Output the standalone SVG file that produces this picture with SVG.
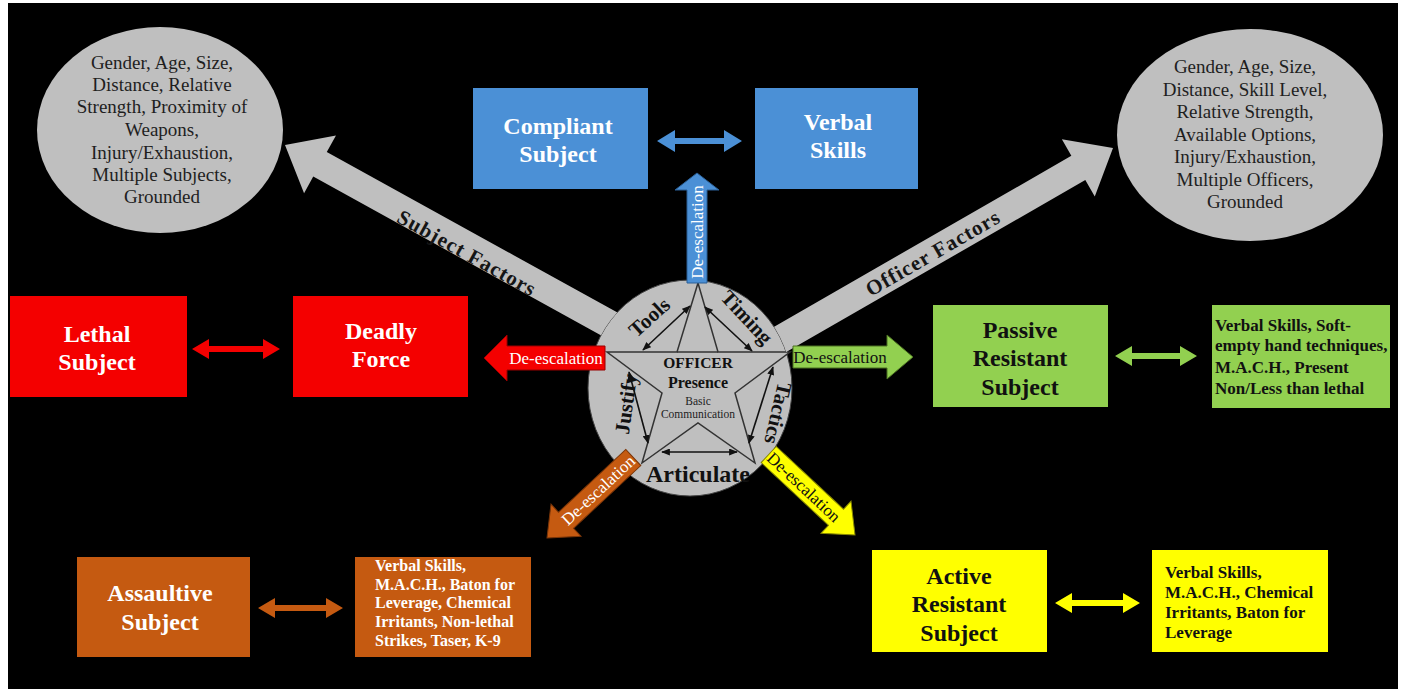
<svg xmlns="http://www.w3.org/2000/svg" width="1403" height="694" viewBox="0 0 1403 694">
<defs>
<style>
.bt{font-family:'Liberation Serif','DejaVu Serif','Times New Roman',serif;font-weight:bold;font-size:24px;text-anchor:middle}
.w{fill:#ffffff}
.d{fill:#111111}
.el{font-family:'Liberation Serif','DejaVu Serif','Times New Roman',serif;font-size:19px;fill:#1e1e1e;text-anchor:middle}
.sm{font-family:'Liberation Serif','DejaVu Serif','Times New Roman',serif;font-weight:bold;font-size:17px}
.de{font-family:'Liberation Serif','DejaVu Serif','Times New Roman',serif;font-size:17px;text-anchor:middle}
.lb{font-family:'Liberation Serif','DejaVu Serif','Times New Roman',serif;font-weight:bold;font-size:21px;fill:#111;text-anchor:middle}
.fac{font-family:'Liberation Serif','DejaVu Serif','Times New Roman',serif;font-weight:bold;font-size:21px;letter-spacing:1px;fill:#151515;text-anchor:middle}
.gray{fill:#bfbfbf}
.thin{stroke:#111;stroke-width:1.6;fill:none;marker-start:url(#ah);marker-end:url(#ah)}
</style>
<marker id="ah" viewBox="0 0 10 8" refX="9" refY="4" markerWidth="9" markerHeight="7" markerUnits="userSpaceOnUse" orient="auto-start-reverse"><path d="M0,0 L10,4 L0,8 z" fill="#111"/></marker>
<clipPath id="outC"><path clip-rule="evenodd" d="M0,0H1403V694H0Z M588,388 a102,108 0 1,0 204,0 a102,108 0 1,0 -204,0Z"/></clipPath>
</defs>
<rect x="0" y="0" width="1403" height="694" fill="#ffffff"/>
<rect x="8" y="3" width="1390" height="686" fill="#000000"/>

<g id="subject-factors-list">
<ellipse class="gray" cx="160" cy="130" rx="123" ry="103"/>
<text class="el" x="162" y="69">Gender, Age, Size,</text>
<text class="el" x="162" y="91">Distance, Relative</text>
<text class="el" x="162" y="113">Strength, Proximity of</text>
<text class="el" x="162" y="136">Weapons,</text>
<text class="el" x="162" y="159">Injury/Exhaustion,</text>
<text class="el" x="162" y="181">Multiple Subjects,</text>
<text class="el" x="162" y="203">Grounded</text>
</g>

<g id="officer-factors-list">
<ellipse class="gray" cx="1250" cy="135" rx="133" ry="106"/>
<text class="el" x="1245" y="73">Gender, Age, Size,</text>
<text class="el" x="1245" y="95.5">Distance, Skill Level,</text>
<text class="el" x="1245" y="118">Relative Strength,</text>
<text class="el" x="1245" y="140.5">Available Options,</text>
<text class="el" x="1245" y="163">Injury/Exhaustion,</text>
<text class="el" x="1245" y="185.5">Multiple Officers,</text>
<text class="el" x="1245" y="208">Grounded</text>
</g>

<g id="compliant-subject">
<rect x="473" y="88" width="175" height="101" fill="#4b90d6"/>
<text class="bt w" x="558" y="134">Compliant</text>
<text class="bt w" x="558" y="162">Subject</text>
</g>

<g id="verbal-skills">
<rect x="755" y="88" width="163" height="101" fill="#4b90d6"/>
<text class="bt w" x="838" y="130">Verbal</text>
<text class="bt w" x="838" y="158">Skills</text>
</g>

<g id="lethal-subject">
<rect x="10" y="296" width="177" height="101" fill="#f40000"/>
<text class="bt w" x="97" y="342">Lethal</text>
<text class="bt w" x="97" y="370">Subject</text>
</g>

<g id="deadly-force">
<rect x="293" y="296" width="175" height="101" fill="#f40000"/>
<text class="bt w" x="381" y="339">Deadly</text>
<text class="bt w" x="381" y="367">Force</text>
</g>

<g id="passive-resistant-subject">
<rect x="933" y="305" width="175" height="102" fill="#92d050"/>
<text class="bt d" x="1020" y="338">Passive</text>
<text class="bt d" x="1020" y="366">Resistant</text>
<text class="bt d" x="1020" y="395">Subject</text>
</g>

<g id="passive-options">
<rect x="1212" y="305" width="178" height="103" fill="#92d050"/>
<text class="sm d" x="1215" y="331">Verbal Skills, Soft-</text>
<text class="sm d" x="1215" y="351">empty hand techniques,</text>
<text class="sm d" x="1215" y="373">M.A.C.H., Present</text>
<text class="sm d" x="1215" y="394">Non/Less than lethal</text>
</g>

<g id="assaultive-subject">
<rect x="77" y="557" width="173" height="100" fill="#c55a11"/>
<text class="bt w" x="160" y="601">Assaultive</text>
<text class="bt w" x="160" y="630">Subject</text>
</g>

<g id="assaultive-options">
<rect x="355" y="557" width="176" height="100" fill="#c55a11"/>
<text class="sm w" x="375" y="571" style="font-size:16px">Verbal Skills,</text>
<text class="sm w" x="375" y="590" style="font-size:16px">M.A.C.H., Baton for</text>
<text class="sm w" x="375" y="608" style="font-size:16px">Leverage, Chemical</text>
<text class="sm w" x="375" y="627" style="font-size:16px">Irritants, Non-lethal</text>
<text class="sm w" x="375" y="646" style="font-size:16px">Strikes, Taser, K-9</text>
</g>

<g id="active-resistant-subject">
<rect x="872" y="550" width="175" height="102" fill="#ffff00"/>
<text class="bt d" x="959" y="584">Active</text>
<text class="bt d" x="959" y="612">Resistant</text>
<text class="bt d" x="959" y="641">Subject</text>
</g>

<g id="active-options">
<rect x="1152" y="550" width="176" height="102" fill="#ffff00"/>
<text class="sm d" x="1165" y="578">Verbal Skills,</text>
<text class="sm d" x="1165" y="598">M.A.C.H., Chemical</text>
<text class="sm d" x="1165" y="618">Irritants, Baton for</text>
<text class="sm d" x="1165" y="638">Leverage</text>
</g>

<g id="officer">
<ellipse cx="690" cy="388" rx="102" ry="108" fill="#bfbfbf" stroke="#444" stroke-width="1"/>
<polygon points="698,283 718,352 790,352 735,393 755,463 698,423 642,463 662,393 607,352 677,352" fill="#bfbfbf" stroke="#333" stroke-width="1.5"/>
<line x1="677" y1="352" x2="718" y2="352" stroke="#333" stroke-width="1.5"/>
<line class="thin" x1="643" y1="350" x2="690" y2="306"/>
<line class="thin" x1="705" y1="307" x2="752" y2="351"/>
<line class="thin" x1="773" y1="367" x2="749" y2="443"/>
<line class="thin" x1="662" y1="452" x2="737" y2="452"/>
<line class="thin" x1="629" y1="372" x2="648" y2="443"/>
<text class="lb" transform="translate(650,318) rotate(-42)" x="0" y="6">Tools</text>
<text class="lb" transform="translate(746,318) rotate(47)" x="0" y="6">Timing</text>
<text class="lb" transform="translate(777,413) rotate(103)" x="0" y="6">Tactics</text>
<text class="lb" transform="translate(627,404) rotate(-82)" x="0" y="6">Justify</text>
<text class="lb" x="698" y="482" style="font-size:24px">Articulate</text>
<text class="lb" x="698" y="368" style="font-size:15.5px">OFFICER</text>
<text class="lb" x="698" y="388" style="font-size:16px">Presence</text>
<text class="de" x="698" y="405" style="font-size:11.5px;fill:#222">Basic</text>
<text class="de" x="698" y="418" style="font-size:11.5px;fill:#222">Communication</text>
</g>

<g id="connectors">
<g clip-path="url(#outC)">
<polygon transform="translate(285,145) rotate(208.9)" points="0,0 -40,-33 -40,-14 -400,-14 -400,14 -40,14 -40,33" fill="#bfbfbf"/>
<polygon transform="translate(1113,148) rotate(-29.9)" points="0,0 -40,-33 -40,-14 -400,-14 -400,14 -40,14 -40,33" fill="#bfbfbf"/>
</g>
<text class="fac" transform="translate(467,253) rotate(29)" x="0" y="7">Subject Factors</text>
<text class="fac" transform="translate(933,253) rotate(-30)" x="0" y="7">Officer Factors</text>

<polygon points="657,141 675,130 675,138 724,138 724,130 742,141 724,152 724,144 675,144 675,152" fill="#4b90d6"/>
<polygon points="192,349 209,339 209,346 263,346 263,339 280,349 263,359 263,352 209,352 209,359" fill="#f40000"/>
<polygon points="1115,356 1132,346 1132,353 1180,353 1180,346 1197,356 1180,366 1180,359 1132,359 1132,366" fill="#92d050"/>
<polygon points="258,608 275,598 275,605 326,605 326,598 343,608 326,618 326,611 275,611 275,618" fill="#c55a11"/>
<polygon points="1055,603 1072,593 1072,600 1123,600 1123,593 1140,603 1123,613 1123,606 1072,606 1072,613" fill="#ffff00"/>

<polygon points="697,173 719,190 707,190 707,283 687,283 687,190 675,190" fill="#4b90d6" stroke="#2a5f96" stroke-width="1"/>
<text class="de w" transform="translate(703,232) rotate(-90)" x="0" y="0">De-escalation</text>

<polygon points="484,358 507,335 507,346 605,346 605,370 507,370 507,381" fill="#f40000" stroke="#900" stroke-width="1"/>
<text class="de w" x="556" y="364">De-escalation</text>

<polygon points="913,357 887,335 887,346 793,346 793,368 887,368 887,379" fill="#92d050" stroke="#4a7020" stroke-width="1"/>
<text class="de d" x="840" y="363">De-escalation</text>

<polygon transform="translate(547,538) rotate(137)" points="0,0 -26,-22 -26,-11 -118,-11 -118,11 -26,11 -26,22" fill="#c55a11" stroke="#7a3508" stroke-width="1"/>
<text class="de w" transform="translate(598,490) rotate(-43)" x="0" y="6">De-escalation</text>

<polygon transform="translate(855,535) rotate(43)" points="0,0 -26,-22 -26,-11 -118,-11 -118,11 -26,11 -26,22" fill="#ffff00" stroke="#888800" stroke-width="1"/>
<text class="de d" transform="translate(804,487) rotate(43)" x="0" y="6">De-escalation</text>
</g>
</svg>
